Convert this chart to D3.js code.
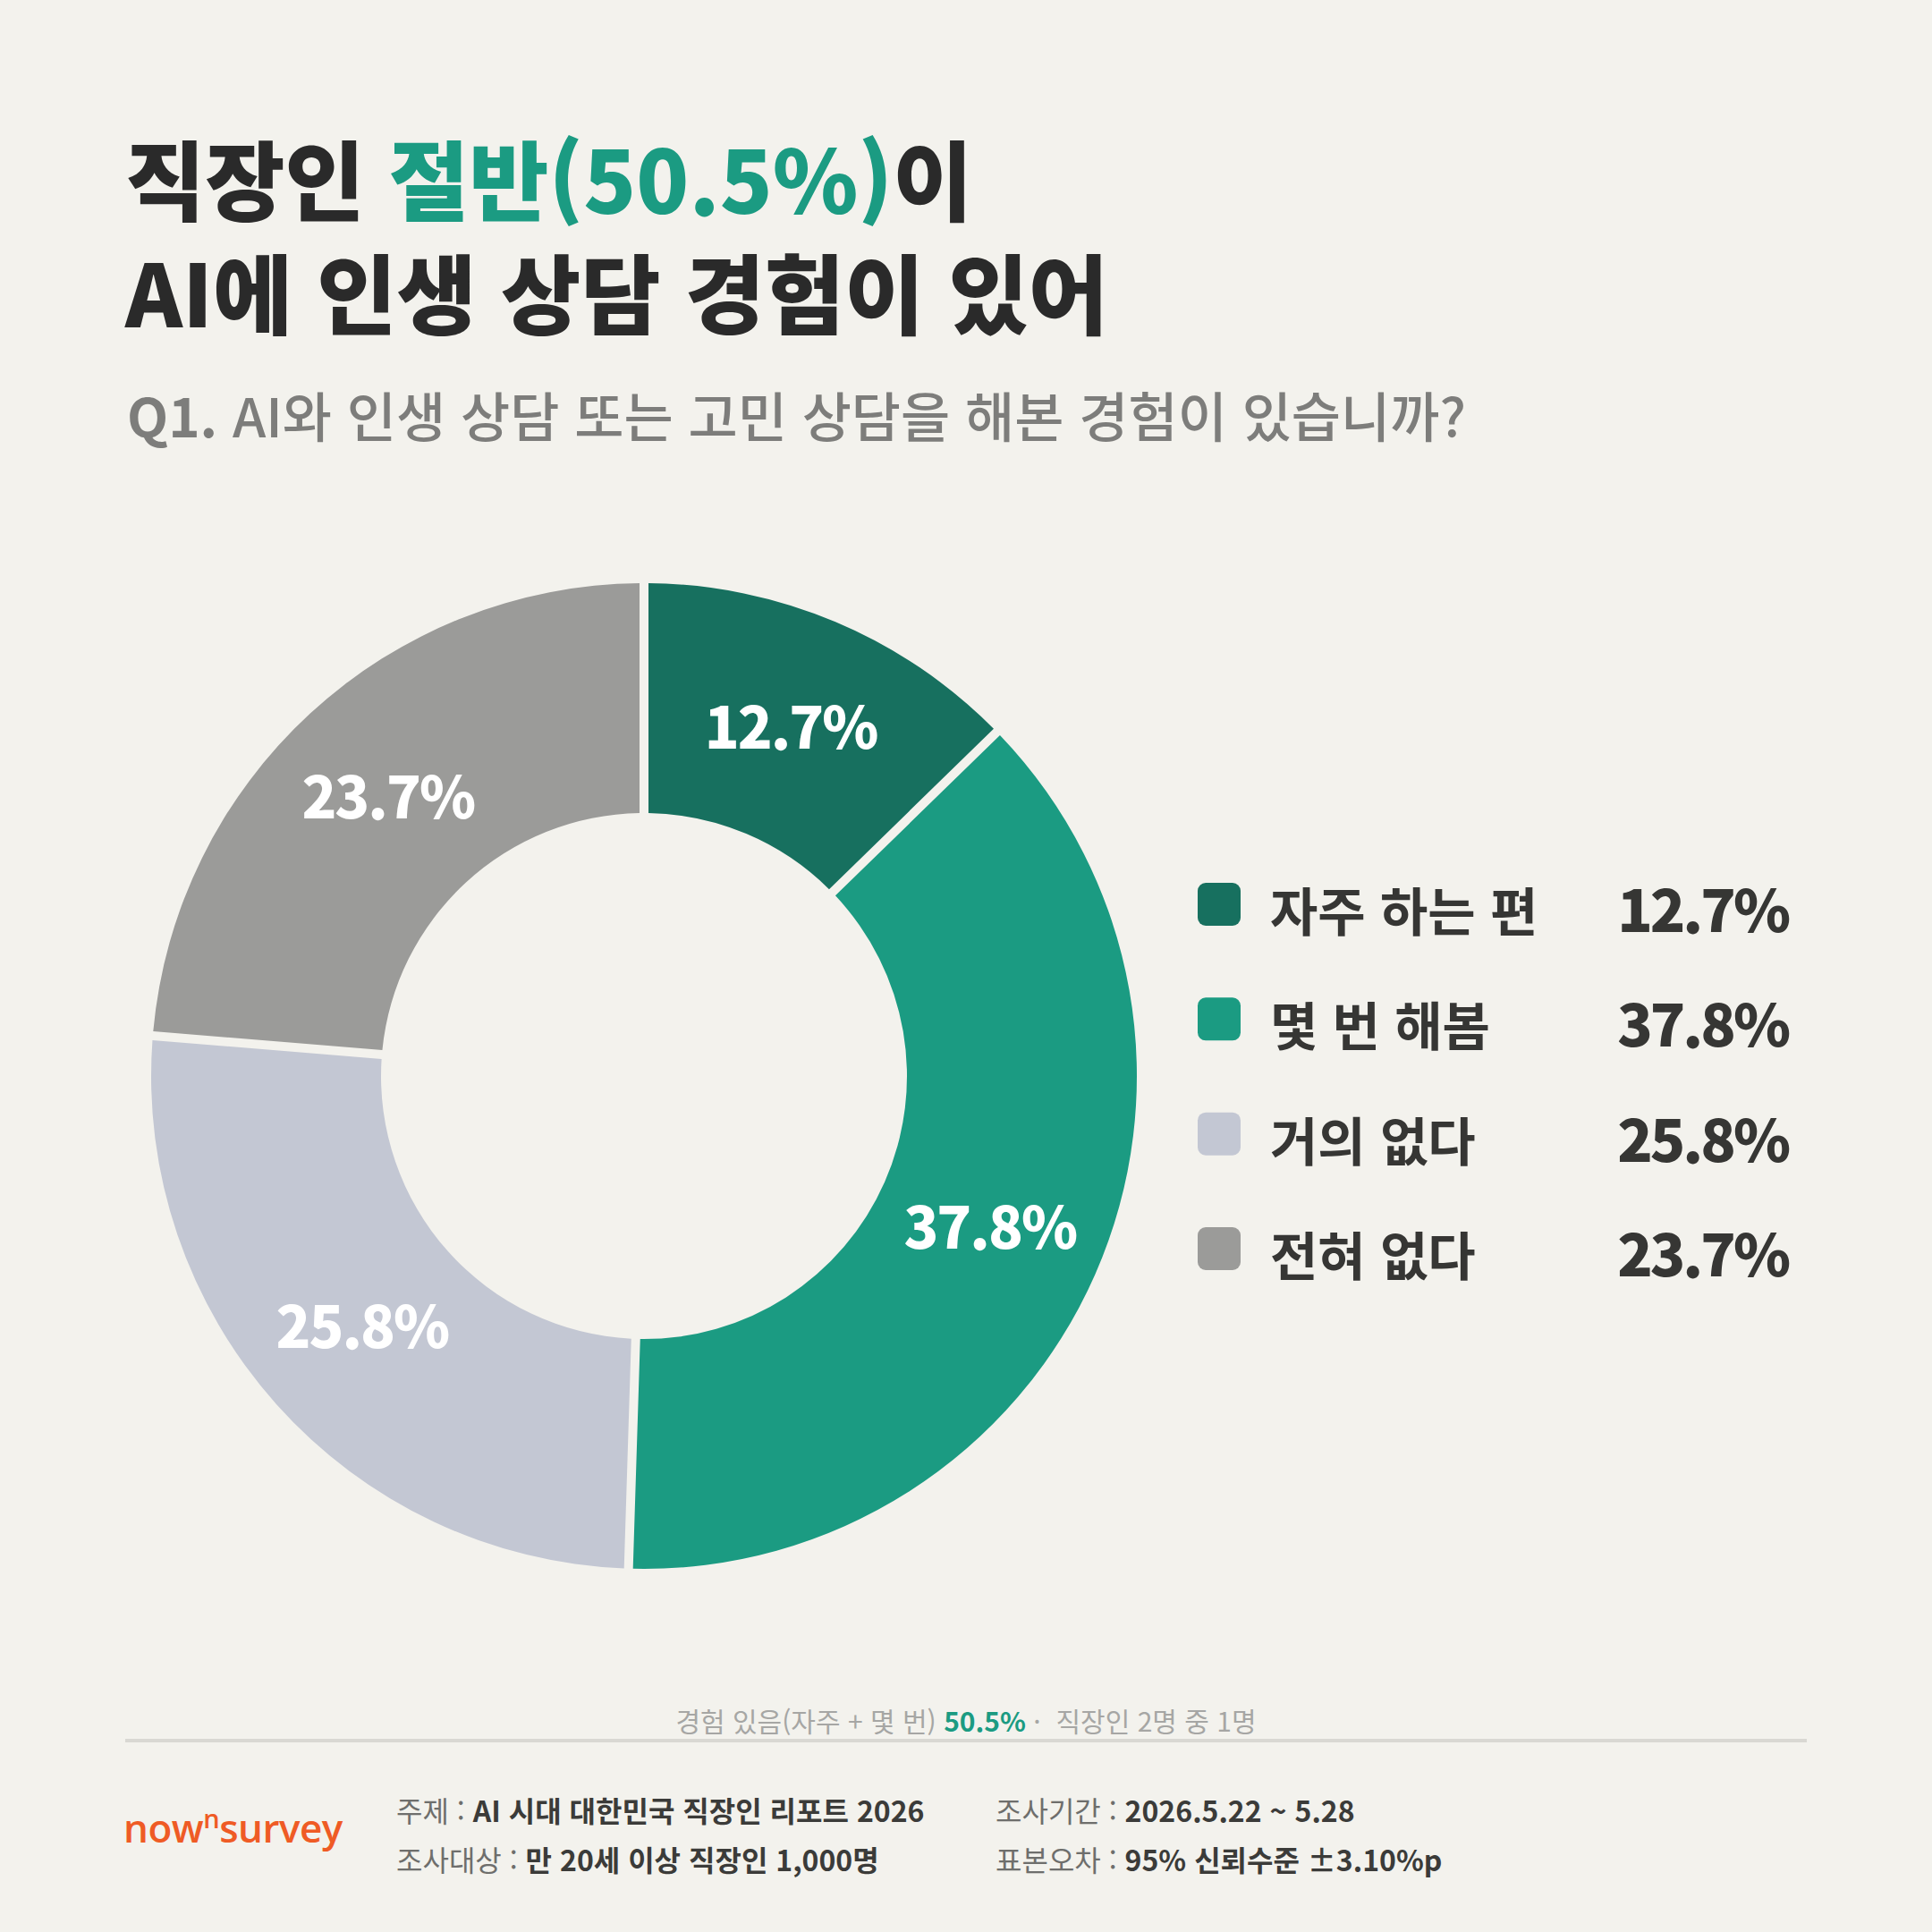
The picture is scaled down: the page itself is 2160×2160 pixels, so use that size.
<!DOCTYPE html>
<html lang="ko">
<head>
<meta charset="utf-8">
<script src="https://cdn.jsdelivr.net/npm/d3@7/dist/d3.min.js"></script>
<style>
  html, body { margin: 0; padding: 0; background: #f3f2ed; }
  svg { display: block; }
  text { font-family: "Noto Sans CJK KR", "Noto Sans", sans-serif; white-space: pre; }
</style>
</head>
<body>
<script>
// ---- data ----
const categories = ["자주 하는 편", "몇 번 해봄", "거의 없다", "전혀 없다"];
const values = [12.7, 37.8, 25.8, 23.7];
const sliceColors = ["#17705f", "#1b9b82", "#c3c7d3", "#9b9b99"];
const titleLine1 = [["직장인 ", "#2a2a2a"], ["절반(50.5%)", "#1b9b82"], ["이", "#2a2a2a"]];
const titleLine2 = "AI에 인생 상담 경험이 있어";
const questionPrefix = "Q1.";
const questionText = " AI와 인생 상담 또는 고민 상담을 해본 경험이 있습니까?";
const summaryParts = [["경험 있음(자주 + 몇 번) ", "#a6a6a4", 400], ["50.5%", "#1b9b82", 700], [" ·  직장인 2명 중 1명", "#a6a6a4", 400]];
const infoLeft = [["주제 : ", "AI 시대 대한민국 직장인 리포트 2026"], ["조사대상 : ", "만 20세 이상 직장인 1,000명"]];
const infoRight = [["조사기간 : ", "2026.5.22 ~ 5.28"], ["표본오차 : ", "95% 신뢰수준 ±3.10%p"]];

const W = 2160, H = 2160;
const BG = "#f3f2ed";
const svg = d3.select("body").append("svg").attr("width", W).attr("height", H);
svg.append("rect").attr("width", W).attr("height", H).attr("fill", BG);

// ---- title ----
const t1 = svg.append("text").attr("x", 140).attr("y", 239)
  .attr("font-size", 97).attr("font-weight", 900);
titleLine1.forEach(([s, c]) => t1.append("tspan").attr("fill", c).text(s));
svg.append("text").attr("x", 140).attr("y", 366)
  .attr("font-size", 97).attr("font-weight", 900)
  .attr("fill", "#2a2a2a").text(titleLine2);

const q = svg.append("text").attr("x", 142).attr("y", 489).attr("font-size", 60).attr("fill", "#7d7d7b");
q.append("tspan").attr("font-weight", 700).text(questionPrefix);
q.append("tspan").attr("font-weight", 500).text(questionText);

// ---- donut ----
const cx = 720, cy = 1203, rOuter = 551, rInner = 294;
const pie = d3.pie().sort(null).value(d => d.value);
const data = pie(categories.map((c, i) => ({ cat: c, value: values[i], color: sliceColors[i] })));
const arc = d3.arc().innerRadius(rInner).outerRadius(rOuter).padRadius(rOuter).padAngle(10 / rOuter);
const labelArc = d3.arc().innerRadius(rInner).outerRadius(rOuter);
const g = svg.append("g").attr("transform", `translate(${cx},${cy})`);
g.selectAll("path.slice").data(data).join("path").attr("class", "slice")
  .attr("d", arc).attr("fill", d => d.data.color);
g.selectAll("text.lbl").data(data).join("text").attr("class", "lbl")
  .attr("transform", d => `translate(${labelArc.centroid(d)})`)
  .attr("dy", "0.36em")
  .attr("text-anchor", "middle").attr("font-size", 64).attr("font-weight", 800)
  .attr("letter-spacing", -2)
  .attr("fill", "#ffffff")
  .text(d => d3.format(".1f")(d.data.value) + "%");

// ---- legend ----
const ly = d3.scalePoint().domain(categories).range([1011, 1396]);
const lg = svg.append("g");
const rows = lg.selectAll("g.row").data(data).join("g").attr("class", "row")
  .attr("transform", d => `translate(0,${ly(d.data.cat)})`);
rows.append("rect").attr("x", 1339).attr("y", -24).attr("width", 48).attr("height", 48)
  .attr("rx", 9).attr("fill", d => d.data.color);
rows.append("text").attr("x", 1420).attr("y", 30).attr("font-size", 58).attr("font-weight", 700)
  .attr("fill", "#363634").text(d => d.data.cat);
rows.append("text").attr("x", 1999).attr("y", 31).attr("text-anchor", "end")
  .attr("font-size", 65).attr("font-weight", 800).attr("letter-spacing", -3).attr("fill", "#363634")
  .text(d => d3.format(".1f")(d.data.value) + "%");

// ---- summary + rule ----
const s = svg.append("text").attr("x", 1080).attr("y", 1936).attr("text-anchor", "middle").attr("font-size", 30);
summaryParts.forEach(([t, c, w]) => s.append("tspan").attr("fill", c).attr("font-weight", w).text(t));
svg.append("rect").attr("x", 140).attr("y", 1944).attr("width", 1880).attr("height", 4).attr("fill", "#d9d8d3");

// ---- footer ----
const logo = svg.append("text").attr("x", 138).attr("y", 2060).attr("font-size", 44)
  .attr("font-weight", 600).attr("fill", "#ef5b25").attr("letter-spacing", -0.5)
  .style("font-family", "'Open Sans', 'Noto Sans', sans-serif");
logo.append("tspan").text("now");
logo.append("tspan").attr("font-size", 29).attr("dy", -16).text("n");
logo.append("tspan").attr("dy", 16).text("survey");

function infoCol(x, items) {
  items.forEach(([lab, val], i) => {
    const t = svg.append("text").attr("x", x).attr("y", 2037 + i * 55).attr("font-size", 32);
    t.append("tspan").attr("fill", "#6e6e6c").attr("font-weight", 400).text(lab);
    t.append("tspan").attr("fill", "#3b3b39").attr("font-weight", 700).text(val);
  });
}
infoCol(443, infoLeft);
infoCol(1113, infoRight);
</script>
</body>
</html>
